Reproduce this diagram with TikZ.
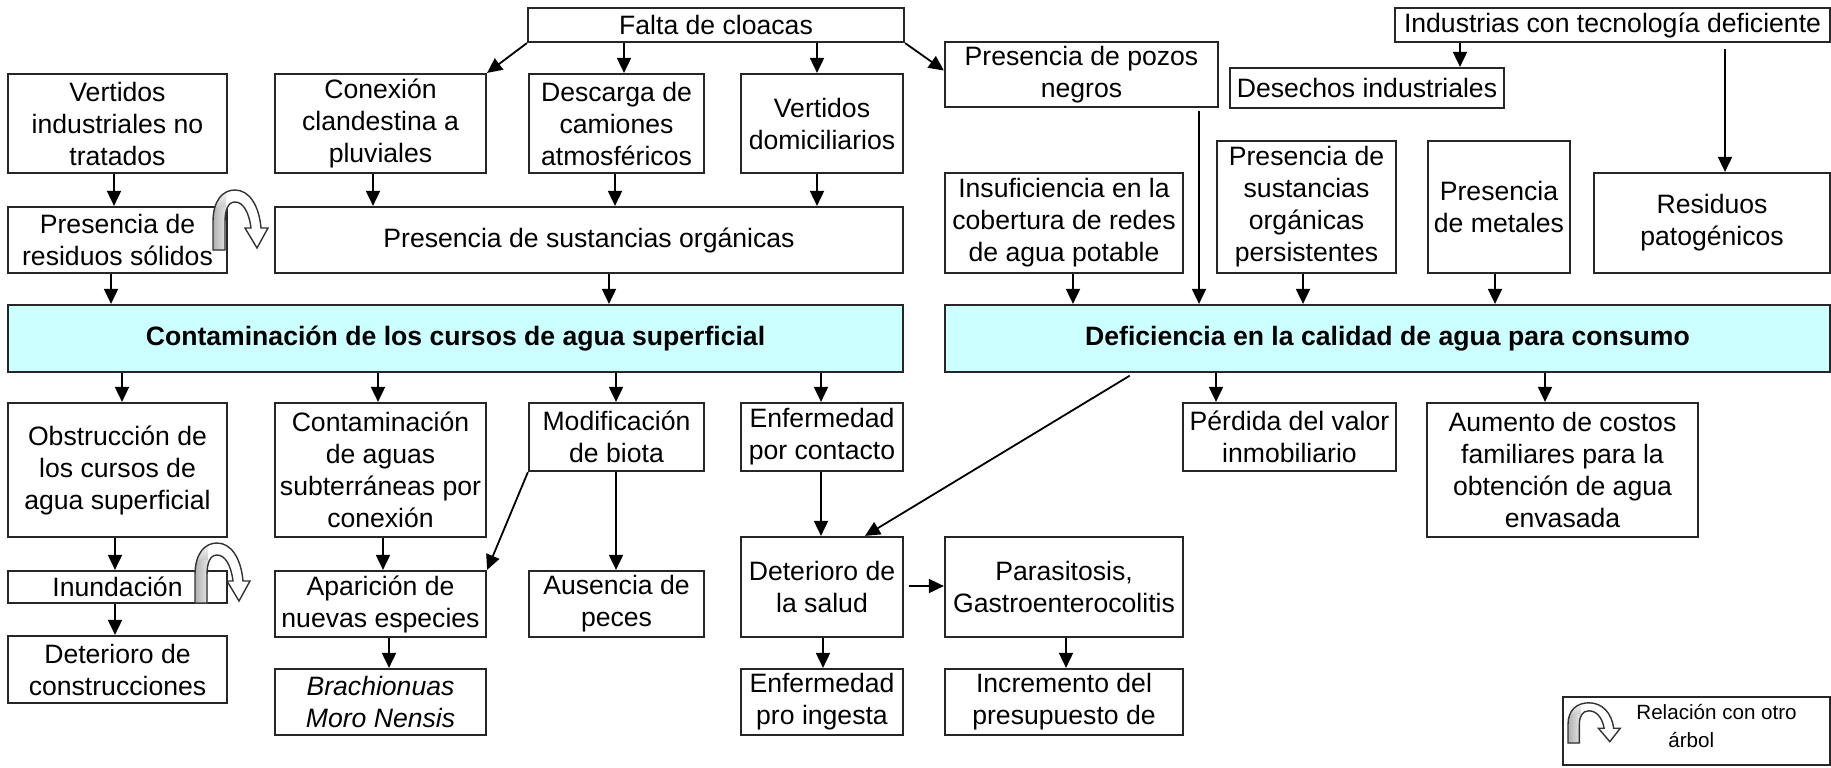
\documentclass[tikz,border=0pt]{standalone}
\usepackage{fontspec}
\setmainfont{Liberation Sans}
\usetikzlibrary{arrows.meta,calc}
\definecolor{maincyan}{RGB}{204,255,255}
\tikzset{
  box/.style={draw=black!85,line width=1.1pt,fill=white,inner sep=0pt,align=center,
    font=\fontsize{13.3}{16}\selectfont},
  mainbox/.style={box,fill=maincyan,font=\fontsize{13.3}{16}\selectfont\bfseries},
  arr/.style={line width=0.9pt,-{Triangle[length=7.5pt,width=7pt]}},
  uline/.style={draw=black!80,line width=0.7pt},
}
\newcommand\bx[7][]{\node[box,#1,minimum width={(#5-#3)*0.5pt},minimum height={(#6-#4)*0.5pt}] (#2) at ({(#3+#5)/2},{(#4+#6)/2}) {#7};}
\newcommand\uturnpath{%
  (0,0) -- (0,-28) .. controls (0,-50) and (10,-60) .. (22,-60)
  .. controls (36,-60) and (46,-45) .. (48,-22) -- (55,-22) -- (44,-2) -- (32,-22) -- (38,-22)
  .. controls (36,-38) and (30,-48) .. (22,-48) .. controls (15,-48) and (12,-40) .. (12,-28)
  -- (12,0) -- cycle}
\newcommand\drawuturn{%
  \fill[white] \uturnpath;
  \begin{scope}
    \clip \uturnpath;
    \fill[left color=gray!65,right color=gray!20] (-1,1) rectangle (13,-44);
    \fill[top color=white,bottom color=gray!40] (-1,-44) rectangle (13,-62);
  \end{scope}
  \path[uline] \uturnpath;}
\begin{document}
\begin{tikzpicture}[x=0.5pt,y=-0.5pt]
\useasboundingbox (0,0) rectangle (1831,767);
% top
\bx{falta}{528}{8}{904}{42}{Falta de cloacas}
\bx{indus}{1395}{8}{1830}{42}{Industrias con tecnología deficiente}
\bx{desech}{1230}{68}{1504}{108}{Desechos industriales}
\bx{pozos}{945}{42}{1218}{107}{Presencia de pozos\\negros}
% causes
\bx{vind}{8}{74}{227}{173}{Vertidos\\industriales no\\tratados}
\bx{conex}{275}{74}{486}{173}{Conexión\\clandestina a\\pluviales}
\bx{desc}{529}{74}{704}{173}{Descarga de\\camiones\\atmosféricos}
\bx{vdom}{741}{74}{903}{173}{Vertidos\\domiciliarios}
\bx{resid}{8}{207}{227}{273}{Presencia de\\residuos sólidos}
\bx{sorg}{275}{207}{903}{273}{Presencia de sustancias orgánicas}
\bx{insuf}{945}{173}{1183}{273}{Insuficiencia en la\\cobertura de redes\\de agua potable}
\bx{pers}{1217}{141}{1396}{273}{Presencia de\\sustancias\\orgánicas\\persistentes}
\bx{metal}{1428}{141}{1570}{273}{Presencia\\de metales}
\bx{patog}{1594}{173}{1830}{273}{Residuos\\patogénicos}
% main problems
\bx[mainbox]{cont}{8}{305}{903}{372}{Contaminación de los cursos de agua superficial}
\bx[mainbox]{defi}{945}{305}{1830}{372}{Deficiencia en la calidad de agua para consumo}
% effects
\bx{obst}{8}{403}{227}{537}{Obstrucción de\\los cursos de\\agua superficial}
\bx{csub}{275}{403}{486}{537}{Contaminación\\de aguas\\subterráneas por\\conexión}
\bx{modif}{529}{403}{704}{471}{Modificación\\de biota}
\bx{enfc}{741}{403}{903}{471}{Enfermedad\\por contacto}
\bx{perd}{1183}{403}{1396}{471}{Pérdida del valor\\inmobiliario}
\bx{aum}{1427}{403}{1698}{537}{Aumento de costos\\familiares para la\\obtención de agua\\envasada}
\bx{inun}{8}{571}{227}{603}{Inundación}
\bx{apar}{275}{571}{486}{637}{Aparición de\\nuevas especies}
\bx{ause}{529}{571}{704}{637}{Ausencia de\\peces}
\bx{salud}{741}{537}{903}{637}{Deterioro de\\la salud}
\bx{paras}{945}{537}{1183}{637}{Parasitosis,\\Gastroenterocolitis}
\bx{dcons}{8}{636}{227}{703}{Deterioro de\\construcciones}
\bx{brach}{275}{669}{486}{735}{\itshape Brachionuas\\\itshape Moro Nensis}
\bx{enfi}{741}{669}{903}{735}{Enfermedad\\pro ingesta}
\bx{incr}{945}{669}{1183}{735}{Incremento del\\presupuesto de}
% legend
\bx{leg}{1563}{697}{1830}{765}{}
\node[inner sep=0pt,align=left,font=\fontsize{10.3}{14}\selectfont,anchor=north west] (legtxt) at (1636,704) {Relación con otro\\\hspace{16pt}árbol};
% arrows
\draw[arr] (falta.south west) -- (conex.north east);
\draw[arr] (falta.south -| 624,0) -- (desc.north -| 624,0);
\draw[arr] (falta.south -| 817,0) -- (vdom.north -| 817,0);
\draw[arr] (falta.south east) -- ($(pozos.west)+(0,-4)$);
\draw[arr] (indus.south -| 1460,0) -- (desech.north -| 1460,0);
\draw[arr,shorten <=3pt] (indus.south -| 1725,0) -- (patog.north -| 1725,0);
\draw[arr,shorten <=1.5pt] (pozos.south -| 1199,0) -- (defi.north -| 1199,0);
\draw[arr] (vind.south -| 114,0) -- (resid.north -| 114,0);
\draw[arr] (conex.south -| 373,0) -- (sorg.north -| 373,0);
\draw[arr] (desc.south -| 615,0) -- (sorg.north -| 615,0);
\draw[arr] (vdom.south -| 817,0) -- (sorg.north -| 817,0);
\draw[arr] (resid.south -| 111,0) -- (cont.north -| 111,0);
\draw[arr] (sorg.south -| 609,0) -- (cont.north -| 609,0);
\draw[arr] (insuf.south -| 1073,0) -- (defi.north -| 1073,0);
\draw[arr] (pers.south -| 1303,0) -- (defi.north -| 1303,0);
\draw[arr] (metal.south -| 1495,0) -- (defi.north -| 1495,0);
\draw[arr] (cont.south -| 122,0) -- (obst.north -| 122,0);
\draw[arr] (cont.south -| 378,0) -- (csub.north -| 378,0);
\draw[arr] (cont.south -| 616,0) -- (modif.north -| 616,0);
\draw[arr] (cont.south -| 821,0) -- (enfc.north -| 821,0);
\draw[arr] (defi.south -| 1216,0) -- (perd.north -| 1216,0);
\draw[arr] (defi.south -| 1545,0) -- (aum.north -| 1545,0);
\draw[arr,shorten <=2.5pt] (defi.south -| 1134,0) -- (salud.north -| 865,0);
\draw[arr] (modif.south west) -- (apar.north east);
\draw[arr] (modif.south -| 616,0) -- (ause.north -| 616,0);
\draw[arr] (enfc.south -| 821,0) -- (salud.north -| 821,0);
\draw[arr] (obst.south -| 115,0) -- (inun.north -| 115,0);
\draw[arr] (inun.south -| 115,0) -- (dcons.north -| 115,0);
\draw[arr] (csub.south -| 383,0) -- (apar.north -| 383,0);
\draw[arr] (apar.south -| 389,0) -- (brach.north -| 389,0);
\draw[arr,shorten <=2.5pt] (salud.east |- 0,586) -- (paras.west |- 0,586);
\draw[arr] (salud.south -| 823,0) -- (enfi.north -| 823,0);
\draw[arr] (paras.south -| 1066,0) -- (incr.north -| 1066,0);
% relation arrows
\begin{scope}[shift={(213,250)}]
  \drawuturn
\end{scope}
\begin{scope}[shift={(195,603)}]
  \drawuturn
\end{scope}
\begin{scope}[shift={(1568,743)},xscale=0.95,yscale=0.67]
  \drawuturn
\end{scope}
\end{tikzpicture}
\end{document}
